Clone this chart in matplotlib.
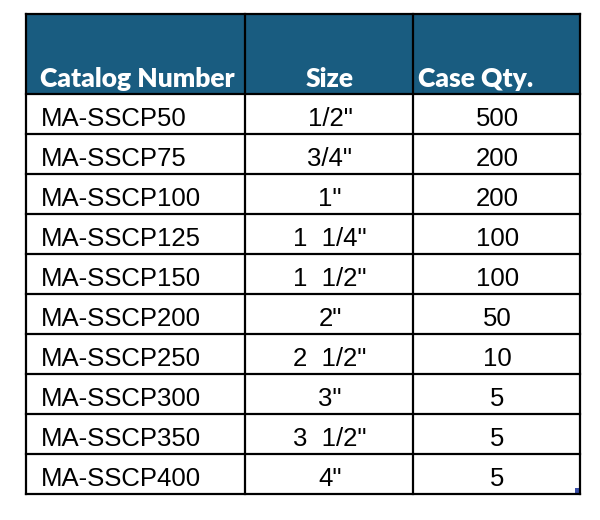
import matplotlib
matplotlib.use("Agg")
import matplotlib.pyplot as plt
from matplotlib.patches import Rectangle

headers = ["Catalog Number", "Size", "Case Qty."]
catalog = ["MA-SSCP50", "MA-SSCP75", "MA-SSCP100", "MA-SSCP125", "MA-SSCP150",
           "MA-SSCP200", "MA-SSCP250", "MA-SSCP300", "MA-SSCP350", "MA-SSCP400"]
sizes = ['1/2"', '3/4"', '1"', '1  1/4"', '1  1/2"', '2"', '2  1/2"', '3"', '3  1/2"', '4"']
qty = [500, 200, 200, 100, 100, 50, 10, 5, 5, 5]

# layout in pixels
col_x = [26, 245, 413, 580]
top, head_bot, row_h = 14, 94, 40
header_col = "#195C80"

fig = plt.figure(figsize=(6, 5.2), dpi=100)
ax = fig.add_axes([0, 0, 1, 1])
ax.set_xlim(0, 600)
ax.set_ylim(520, 0)
ax.axis("off")

bottom = head_bot + row_h * len(catalog)
ax.add_patch(Rectangle((col_x[0], top), col_x[-1] - col_x[0], head_bot - top,
                       facecolor=header_col, edgecolor="none"))

# header text
hfont = dict(family=["Lato", "DejaVu Sans"], weight="heavy", color="white", fontsize=19)
ax.text(col_x[0] + 14, head_bot - 7, headers[0], ha="left", va="baseline", **hfont)
ax.text((col_x[1] + col_x[2]) / 2 + 1, head_bot - 7, headers[1], ha="center", va="baseline", **hfont)
ax.text(col_x[2] + 5, head_bot - 7, headers[2], ha="left", va="baseline", **hfont)

# body
bfont = dict(family=["Liberation Sans", "DejaVu Sans"], color="black", fontsize=18.5)
for i in range(len(catalog)):
    yb = head_bot + row_h * (i + 1) - 8
    ax.text(col_x[0] + 15, yb, catalog[i], ha="left", va="baseline", **bfont)
    ax.text((col_x[1] + col_x[2]) / 2 + 1, yb, sizes[i], ha="center", va="baseline", **bfont)
    ax.text((col_x[2] + col_x[3]) / 2 + 1, yb, str(qty[i]), ha="center", va="baseline", **bfont)

# grid lines
for x in col_x:
    ax.plot([x, x], [top, bottom], color="black", lw=1.6, solid_capstyle="projecting")
ax.plot([col_x[0], col_x[-1]], [top, top], color="black", lw=1.6, solid_capstyle="projecting")
for i in range(len(catalog) + 1):
    y = head_bot + row_h * i
    ax.plot([col_x[0], col_x[-1]], [y, y], color="black", lw=1.6, solid_capstyle="projecting")

# excel fill handle
ax.add_patch(Rectangle((col_x[-1] - 5, bottom - 6), 6, 6, facecolor="#3A4FA8", edgecolor="none"))

fig.savefig("out.png", dpi=100)
